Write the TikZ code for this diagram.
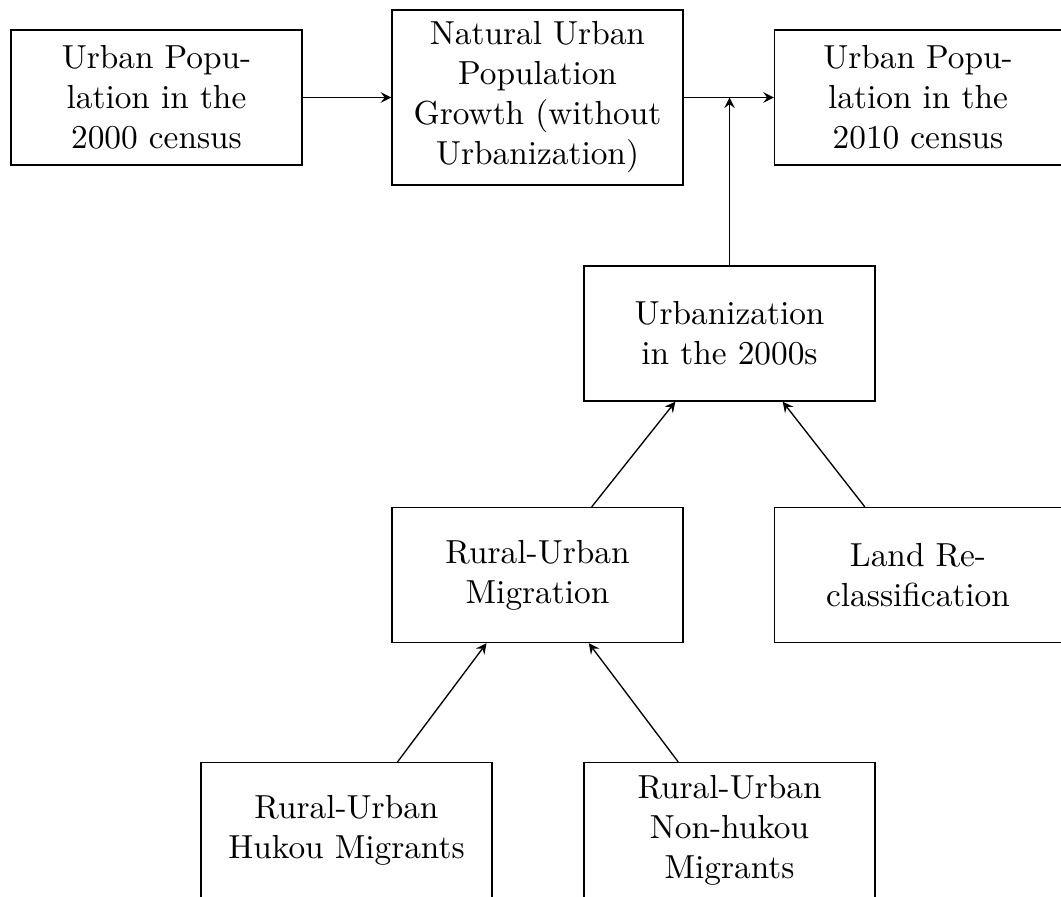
\documentclass[tikz,border=0pt]{standalone}
\usetikzlibrary{arrows}
\begin{document}
\begin{tikzpicture}[x=0.3pt,y=-0.3pt,
  box/.style={draw,align=center,inner sep=0pt,minimum width=87.3pt,minimum height=40.5pt},
  conn/.style={-stealth}]
\useasboundingbox (0,0) rectangle (1061,896);
\node[box] (p2000) at (156.5,97.5) {Urban Popu-\\lation in the\\2000 census};
\node[box,minimum height=52.5pt] (nat) at (537.5,97.5) {Natural Urban\\Population\\Growth (without\\Urbanization)};
\node[box,minimum width=86.1pt] (p2010) at (918,97.5) {Urban Popu-\\lation in the\\2010 census};
\node[box] (urb) at (729.5,333.5) {Urbanization\\in the 2000s};
\node[box] (mig) at (537.5,575) {Rural-Urban\\Migration};
\node[box,minimum width=86.1pt] (land) at (918,575) {Land Re-\\classification};
\node[box] (hukou) at (346.5,830) {Rural-Urban\\Hukou Migrants};
\node[box] (nonhukou) at (729.5,830) {Rural-Urban\\Non-hukou\\Migrants};
\coordinate (join) at (urb.north |- nat.east);
\draw[conn] (p2000) -- (nat);
\draw[conn] (nat.east) -- (p2010.west);
\draw[conn] (urb.north) -- (join);
\draw[conn] (mig) -- (urb);
\draw[conn] (land) -- (urb);
\draw[conn] (hukou) -- (mig);
\draw[conn] (nonhukou) -- (mig);
\end{tikzpicture}
\end{document}
